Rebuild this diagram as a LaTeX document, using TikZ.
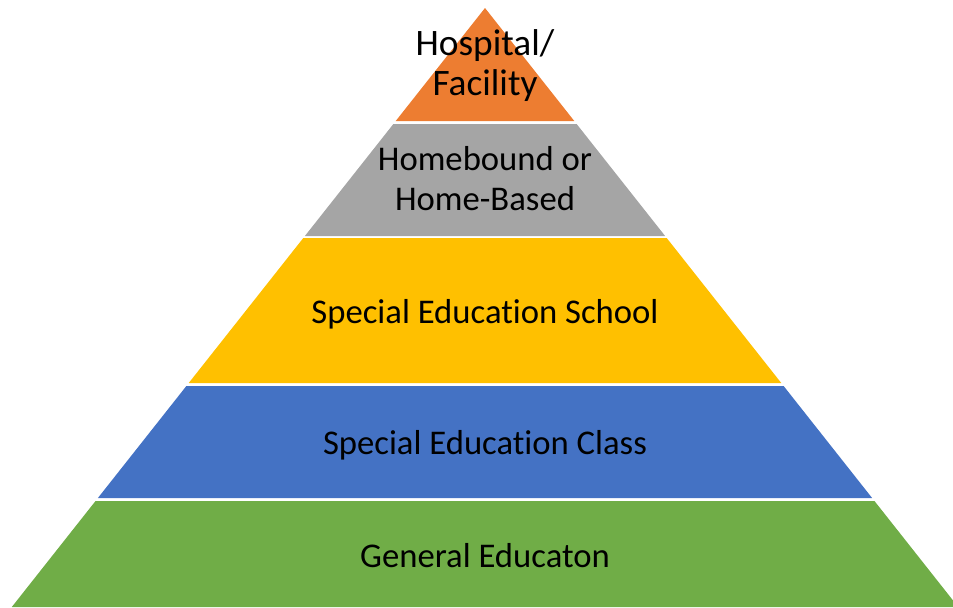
\documentclass[tikz,border=0pt]{standalone}
\usepackage{fontspec}
\setmainfont{Carlito}[Ligatures=NoCommon]
\usepackage{xcolor}
\usetikzlibrary{positioning}

\definecolor{tierorange}{HTML}{ED7D31}
\definecolor{tiergray}{HTML}{A5A5A5}
\definecolor{tieryellow}{HTML}{FFC000}
\definecolor{tierblue}{HTML}{4472C4}
\definecolor{tiergreen}{HTML}{70AD47}

\begin{document}
\begin{tikzpicture}[x=0.75pt, y=-0.75pt,
    tiertext/.style={font=\fontsize{26}{30}\selectfont, align=center, anchor=base, inner sep=0pt}]
    \useasboundingbox (0,0) rectangle (953,607);
    % pyramid tiers: apex at (485,8), half width grows 0.79 per unit
    \foreach \top/\bot/\col in {8/121/tierorange, 124/236/tiergray, 238/383/tieryellow, 386/498/tierblue, 501/607/tiergreen} {
        \fill[\col] ({485-0.79*(\top-8)},\top) -- ({485+0.79*(\top-8)},\top) -- ({485+0.79*(\bot-8)},\bot) -- ({485-0.79*(\bot-8)},\bot) -- cycle;
    }
    \node[tiertext, font=\fontsize{28}{30}\selectfont] (hospital) at (485,95) {Hospital/\\Facility};
    \node[tiertext] (homebound) at (485,210) {Homebound or\\Home-Based};
    \node[tiertext] (school) at (485,323) {Special Education School};
    \node[tiertext] (class) at (485,454) {Special Education Class};
    \node[tiertext] (general) at (485,567) {General Educaton};
  \end{tikzpicture}
\end{document}
